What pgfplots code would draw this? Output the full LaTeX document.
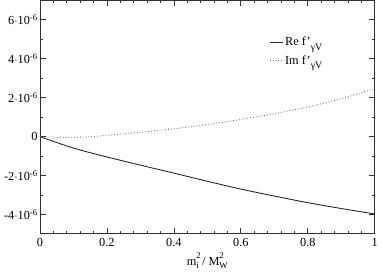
\documentclass[border=0pt]{standalone}
\usepackage{fontspec}
\setmainfont{Liberation Serif}
\usepackage{pgfplots}
\pgfplotsset{compat=1.18}
\newcommand{\supsub}[3]{#1\rlap{\raisebox{6.5pt}{\fontsize{9}{10}\selectfont #2}}\raisebox{-3.5pt}{\fontsize{9}{10}\selectfont #3}}
\newcommand{\fgv}{f’\raisebox{-4.5pt}{\fontsize{10}{12}\selectfont γV}}
\begin{document}
\fontsize{12.5}{15}\selectfont
\begin{tikzpicture}
\begin{axis}[
  scale only axis,
  width=340pt, height=237pt,
  xmin=0, xmax=1, ymin=-5, ymax=7,
  xtick={0,0.2,0.4,0.6,0.8,1},
  xticklabels={0,0.2,0.4,0.6,0.8,1},
  ytick={-4,-2,0,2,4,6},
  yticklabels={-4$\cdot$10\textsuperscript{-6},-2$\cdot$10\textsuperscript{-6},0,2$\cdot$10\textsuperscript{-6},4$\cdot$10\textsuperscript{-6},6$\cdot$10\textsuperscript{-6}},
  minor x tick num=4, minor y tick num=1,
  tick align=inside, tick pos=both,
  major tick length=6pt, minor tick length=3pt,
  axis line style={black!80, line width=0.8pt},
  every tick/.style={black!80, line width=0.8pt},
  tick label style={font=\fontsize{12.5}{15}\selectfont},
  yticklabel style={xshift=2pt},
  xlabel={\supsub{m}{2}{i} / \supsub{M}{2}{W}},
  xlabel style={font=\fontsize{12.5}{15}\selectfont, yshift=2pt},
  legend style={at={(0.676,0.86)}, anchor=north west, draw=none, fill=none,
    font=\fontsize{12.5}{15}\selectfont, row sep=4pt},
  legend cell align=left,
  legend image code/.code={\draw[#1] (0pt,0pt) -- (13pt,0pt);},
]
\addplot[black!85, line width=0.9pt, smooth] coordinates {
(0,0) (0.05,-0.31) (0.1,-0.59) (0.15,-0.83) (0.2,-1.05) (0.3,-1.47) (0.4,-1.88)
(0.5,-2.30) (0.6,-2.70) (0.7,-3.06) (0.8,-3.40) (0.9,-3.70) (1.0,-3.98)};
\addlegendentry{Re \fgv}
\addplot[black!55, line width=0.9pt, dotted, smooth] coordinates {
(0,0) (0.05,-0.04) (0.1,-0.04) (0.15,-0.01) (0.2,0.06) (0.3,0.22) (0.4,0.40)
(0.5,0.62) (0.6,0.88) (0.7,1.18) (0.8,1.52) (0.9,1.95) (1.0,2.47)};
\addlegendentry{Im \fgv}
\end{axis}
\end{tikzpicture}
\end{document}
